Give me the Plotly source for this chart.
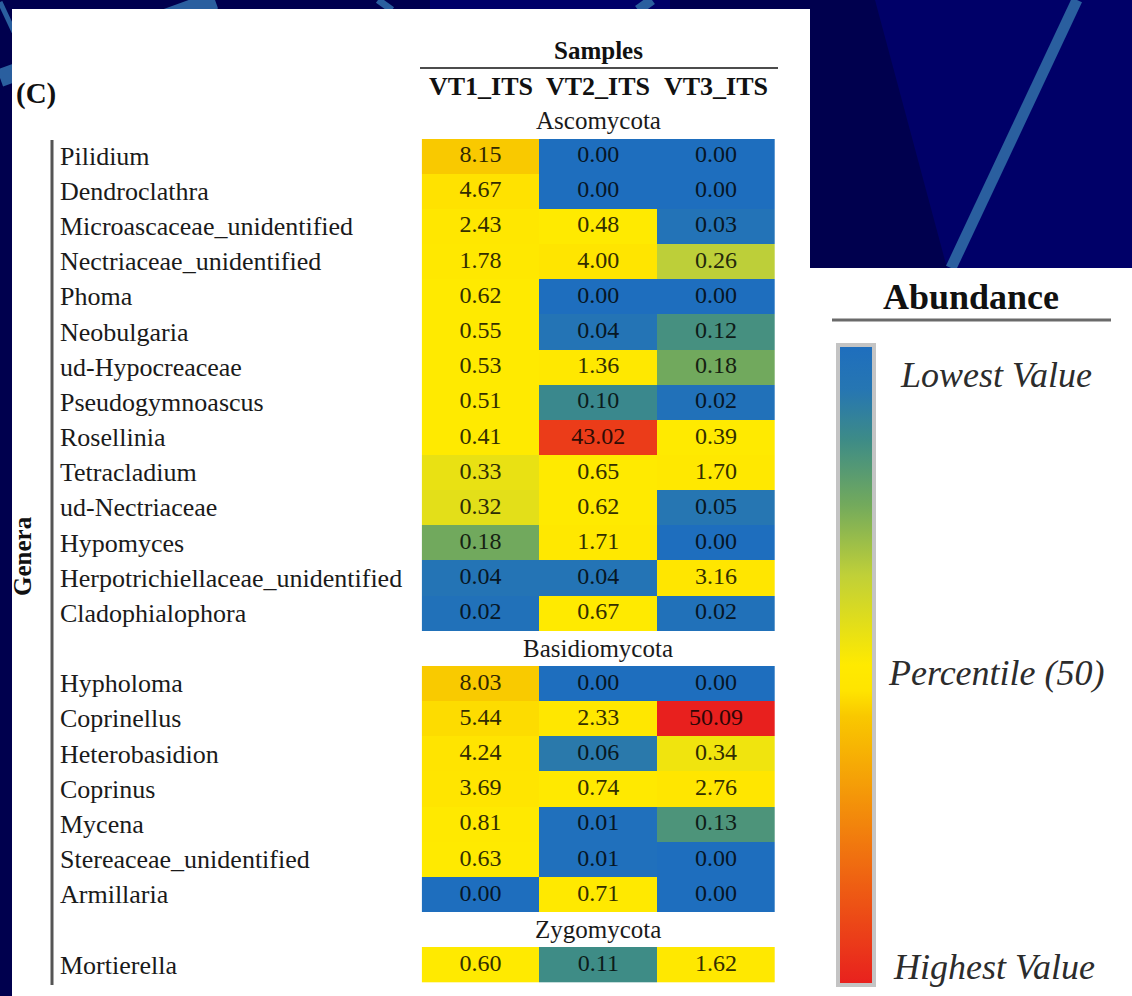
import numpy as np
import plotly.graph_objects as go
from plotly.colors import sample_colorscale

W, H = 1132, 996

# ---- data -------------------------------------------------------------
samples = ["VT1_ITS", "VT2_ITS", "VT3_ITS"]

genera = [
    "Pilidium", "Dendroclathra", "Microascaceae_unidentified",
    "Nectriaceae_unidentified", "Phoma", "Neobulgaria", "ud-Hypocreaceae",
    "Pseudogymnoascus", "Rosellinia", "Tetracladium", "ud-Nectriaceae",
    "Hypomyces", "Herpotrichiellaceae_unidentified", "Cladophialophora",
    "Hypholoma", "Coprinellus", "Heterobasidion", "Coprinus", "Mycena",
    "Stereaceae_unidentified", "Armillaria",
    "Mortierella",
]
phylum = ["Ascomycota"] * 14 + ["Basidiomycota"] * 7 + ["Zygomycota"]

vt1 = [8.15, 4.67, 2.43, 1.78, 0.62, 0.55, 0.53, 0.51, 0.41, 0.33, 0.32,
       0.18, 0.04, 0.02,
       8.03, 5.44, 4.24, 3.69, 0.81, 0.63, 0.00,
       0.60]
vt2 = [0.00, 0.00, 0.48, 4.00, 0.00, 0.04, 1.36, 0.10, 43.02, 0.65, 0.62,
       1.71, 0.04, 0.67,
       0.00, 2.33, 0.06, 0.74, 0.01, 0.01, 0.71,
       0.11]
vt3 = [0.00, 0.00, 0.03, 0.26, 0.00, 0.12, 0.18, 0.02, 0.39, 1.70, 0.05,
       0.00, 3.16, 0.02,
       0.00, 50.09, 0.34, 2.76, 0.13, 0.00, 0.00,
       1.62]

# ---- colour rule: lowest -> blue, 50th percentile -> yellow, highest -> red
all_vals = np.array(vt1 + vt2 + vt3, dtype=float)
lo, mid, hi = all_vals.min(), np.percentile(all_vals, 50), all_vals.max()


def scale_pos(v):
    if v <= mid:
        return 0.5 * (v - lo) / (mid - lo)
    return 0.5 + 0.5 * (v - mid) / (hi - mid)


# positions along the scale (0 = lowest, 0.5 = median, 1 = highest)
stops = [
    (0.00, "rgb(30,110,190)"),
    (0.07, "rgb(38,118,178)"),
    (0.15, "rgb(62,140,134)"),
    (0.25, "rgb(115,170,92)"),
    (0.36, "rgb(192,208,56)"),
    (0.50, "rgb(255,234,0)"),
    (0.54, "rgb(255,228,0)"),
    (0.58, "rgb(249,200,0)"),
    (1.00, "rgb(232,32,30)"),
]
# the colourbar shows the lowest value at the top, so the heatmap works on
# the flipped position 1 - p
cscale = [[round(1 - p, 4), c] for p, c in reversed(stops)]

# ---- row layout: phylum header rows interleaved with genus rows ---------
rows = []          # (kind, label, values)
prev = None
for g, p, a, b, c in zip(genera, phylum, vt1, vt2, vt3):
    if p != prev:
        rows.append(("head", p, None))
        prev = p
    rows.append(("genus", g, (a, b, c)))
n_rows = len(rows)

z = []
tx, ty, tt, tc = [], [], [], []
for i, (kind, label, vals) in enumerate(rows):
    if kind == "head":
        z.append([None, None, None])
        continue
    zr = []
    for j, v in enumerate(vals):
        w = 1 - scale_pos(v)
        zr.append(w)
        col = sample_colorscale(cscale, [w])[0]
        r, g_, b_ = [float(s) for s in col[col.index("(") + 1:-1].split(",")]
        k = 0.2
        tx.append(j)
        ty.append(i)
        tt.append(f"{v:.2f}")
        tc.append(f"rgb({int(r * k)},{int(g_ * k)},{int(b_ * k)})")
    z.append(zr)


def px(x):
    return x / W


def py(y):
    return 1 - y / H


SERIF = "Liberation Serif, Times New Roman, serif"

fig = go.Figure()

fig.add_trace(go.Heatmap(
    z=z, x=[0, 1, 2], y=list(range(n_rows)),
    colorscale=cscale, zmin=0, zmax=1, hoverinfo="skip",
    xgap=0, ygap=0,
    colorbar=dict(
        thickness=36, thicknessmode="pixels",
        len=640, lenmode="pixels",
        x=px(838), xanchor="left", xpad=0,
        y=py(665), yanchor="middle", ypad=0,
        outlinewidth=4, outlinecolor="#c4c4c4",
        showticklabels=False, ticks="",
    ),
))

fig.add_trace(go.Scatter(
    x=tx, y=ty, text=tt, mode="text", hoverinfo="skip",
    textfont=dict(family=SERIF, size=24, color=tc),
))

# ---- background of the slide ------------------------------------------
NAVY_DARK = "#00004e"
LINE_BLUE = "#2a5f9f"


def poly(pts, color):
    d = "M " + " L ".join(f"{px(x)},{py(y)}" for x, y in pts) + " Z"
    return dict(type="path", xref="paper", yref="paper", path=d,
                fillcolor=color, line=dict(width=0), layer="below")


def seg(x0, y0, x1, y1, width, color=LINE_BLUE):
    return dict(type="line", xref="paper", yref="paper",
                x0=px(x0), y0=py(y0), x1=px(x1), y1=py(y1),
                line=dict(color=color, width=width), layer="below")


def rect(x0, y0, x1, y1, color):
    return dict(type="rect", xref="paper", yref="paper",
                x0=px(x0), y0=py(y0), x1=px(x1), y1=py(y1),
                fillcolor=color, line=dict(width=0), layer="below")


shapes = [
    poly([(0, 0), (430, 0), (430, 12), (14, 12), (14, 996), (0, 996)], NAVY_DARK),
    poly([(670, 0), (875, 0), (947, 268), (670, 268)], NAVY_DARK),
    seg(0, 78, 215, 0, 18),
    seg(0, 2, 14, 32, 5),
    seg(378, 0, 392, 10, 7),
    seg(652, 0, 638, 10, 10),
    seg(1077, 0, 951, 268, 11),
    rect(12, 9, 810, 996, "white"),
    rect(810, 268, 1132, 996, "white"),
    # bracket beside the genus names
    dict(type="line", xref="paper", yref="paper",
         x0=px(52), x1=px(52), y0=py(140), y1=py(985),
         line=dict(color="#555555", width=3)),
    # rule under "Samples"
    dict(type="line", xref="paper", yref="paper",
         x0=px(420), x1=px(778), y0=py(68), y1=py(68),
         line=dict(color="#111111", width=1.5)),
    # rule under "Abundance"
    dict(type="line", xref="paper", yref="paper",
         x0=px(832), x1=px(1111), y0=py(320), y1=py(320),
         line=dict(color="#6a6a6a", width=3)),
]

# ---- text ---------------------------------------------------------------
ann = []
for i, (kind, label, vals) in enumerate(rows):
    if kind == "head":
        ann.append(dict(x=1, xref="x", y=i, yref="y", text=label,
                        showarrow=False, xanchor="center", yanchor="middle",
                        font=dict(family=SERIF, size=25, color="#1a1a1a")))
    else:
        ann.append(dict(x=px(58), xref="paper", y=i, yref="y", text=label,
                        showarrow=False, xanchor="left", yanchor="middle",
                        font=dict(family=SERIF, size=26, color="#1a1a1a")))

for j, s in enumerate(samples):
    ann.append(dict(x=j, xref="x", y=py(87), yref="paper", text=f"<b>{s}</b>",
                    showarrow=False, xanchor="center", yanchor="middle",
                    font=dict(family=SERIF, size=26, color="#111111")))

ann += [
    dict(x=1, xref="x", y=py(51), yref="paper", text="<b>Samples</b>",
         showarrow=False, xanchor="center", yanchor="middle",
         font=dict(family=SERIF, size=25, color="#111111")),
    dict(x=px(14), xref="paper", y=py(93), yref="paper", text="<b>(C)</b>",
         showarrow=False, xanchor="left", yanchor="middle",
         font=dict(family=SERIF, size=29, color="#111111")),
    dict(x=px(22), xref="paper", y=py(556), yref="paper", text="<b>Genera</b>",
         showarrow=False, xanchor="center", yanchor="middle", textangle=-90,
         font=dict(family=SERIF, size=25, color="#111111")),
    dict(x=px(971), xref="paper", y=py(297), yref="paper", text="<b>Abundance</b>",
         showarrow=False, xanchor="center", yanchor="middle",
         font=dict(family=SERIF, size=36, color="#111111")),
    dict(x=px(898), xref="paper", y=py(375), yref="paper", text="Lowest Value",
         showarrow=False, xanchor="left", yanchor="middle",
         font=dict(family=SERIF, size=36, color="#2c2c2c", style="italic")),
    dict(x=px(886), xref="paper", y=py(673), yref="paper", text="Percentile (50)",
         showarrow=False, xanchor="left", yanchor="middle",
         font=dict(family=SERIF, size=36, color="#2c2c2c", style="italic")),
    dict(x=px(891), xref="paper", y=py(967), yref="paper", text="Highest Value",
         showarrow=False, xanchor="left", yanchor="middle",
         font=dict(family=SERIF, size=36, color="#2c2c2c", style="italic")),
]

fig.update_layout(
    width=W, height=H, autosize=False,
    margin=dict(l=0, r=0, t=0, b=0, pad=0),
    paper_bgcolor="#000068", plot_bgcolor="rgba(0,0,0,0)",
    showlegend=False,
    shapes=shapes, annotations=ann,
    xaxis=dict(domain=[px(421.7), px(775)], range=[-0.5, 2.5], visible=False,
               fixedrange=True),
    yaxis=dict(domain=[py(982.7), py(103.4)], range=[n_rows - 0.5, -0.5],
               visible=False, fixedrange=True),
)

fig.write_html("out.html")
